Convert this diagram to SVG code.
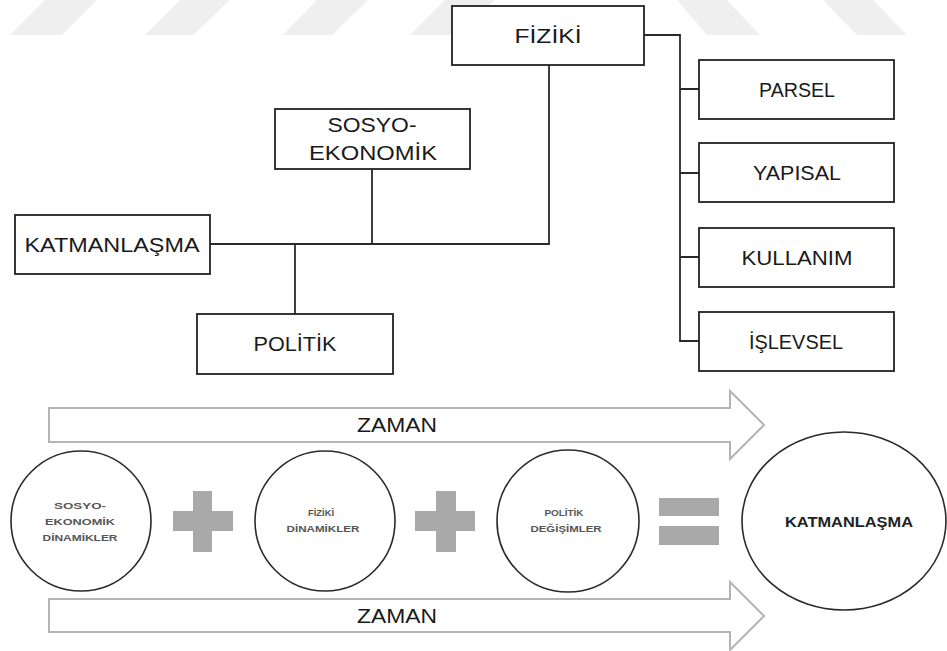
<svg xmlns="http://www.w3.org/2000/svg" width="947" height="651" viewBox="0 0 947 651">
<style>
.box{fill:#fff;stroke:#222;stroke-width:1.8}
.conn{fill:none;stroke:#2a2a2a;stroke-width:1.8}
.t{font-family:"Liberation Sans",Arial,sans-serif;font-size:20px;fill:#1a1a1a;text-anchor:middle}
.s{font-family:"Liberation Sans",Arial,sans-serif;font-size:9.5px;font-weight:bold;fill:#555;text-anchor:middle}
.wm{fill:#efefef}
.arrow{fill:#fff;stroke:#b4b4b4;stroke-width:2}
.circ{fill:#fff;stroke:#2a2a2a;stroke-width:1.6}
.op{fill:#a9a9a9}
</style>
<g id="watermark">
<polygon class="wm" points="10,35 62,35 97,0 45,0"/>
<polygon class="wm" points="145,35 193,35 230,0 180,0"/>
<polygon class="wm" points="283,35 332,35 368,0 317,0"/>
<polygon class="wm" points="410,35 460,35 495,0 445,0"/>
<polygon class="wm" points="677,0 727,0 760,35 707,35"/>
<polygon class="wm" points="823,0 873,0 907,35 857,35"/>
</g>
<g id="connectors">
<path class="conn" d="M644 35 H680 V341 H699"/>
<path class="conn" d="M680 89 H699 M680 173 H699 M680 257 H699"/>
<path class="conn" d="M549 65 V244 H210"/>
<path class="conn" d="M372 169 V244"/>
<path class="conn" d="M295 244 V314"/>
</g>
<g id="fiziki"><rect class="box" x="452" y="6" width="192" height="59"/><text class="t" x="548" y="43" textLength="67" lengthAdjust="spacingAndGlyphs">FİZİKİ</text></g>
<g id="sosyo-ekonomik"><rect class="box" x="275" y="109" width="195" height="60"/><text class="t" x="372" y="132" textLength="89" lengthAdjust="spacingAndGlyphs">SOSYO-</text><text class="t" x="373" y="160" textLength="128" lengthAdjust="spacingAndGlyphs">EKONOMİK</text></g>
<g id="katmanlasma"><rect class="box" x="15" y="215" width="195" height="59"/><text class="t" x="112" y="252" textLength="175" lengthAdjust="spacingAndGlyphs">KATMANLAŞMA</text></g>
<g id="politik"><rect class="box" x="197" y="314" width="196" height="60"/><text class="t" x="295" y="351" textLength="83" lengthAdjust="spacingAndGlyphs">POLİTİK</text></g>
<g id="parsel"><rect class="box" x="699" y="60" width="195" height="59"/><text class="t" x="797" y="97" textLength="76" lengthAdjust="spacingAndGlyphs">PARSEL</text></g>
<g id="yapisal"><rect class="box" x="699" y="143" width="195" height="59"/><text class="t" x="797" y="180" textLength="88" lengthAdjust="spacingAndGlyphs">YAPISAL</text></g>
<g id="kullanim"><rect class="box" x="699" y="228" width="195" height="59"/><text class="t" x="797" y="265" textLength="111" lengthAdjust="spacingAndGlyphs">KULLANIM</text></g>
<g id="islevsel"><rect class="box" x="699" y="312" width="195" height="59"/><text class="t" x="796" y="349" textLength="94" lengthAdjust="spacingAndGlyphs">İŞLEVSEL</text></g>
<g id="zaman-top"><polygon class="arrow" points="49,408 730,408 730,391 764,425 730,459 730,442 49,442"/><text class="t" x="397" y="432" textLength="80" lengthAdjust="spacingAndGlyphs">ZAMAN</text></g>
<g id="zaman-bottom"><polygon class="arrow" points="49,599 730,599 730,582 764,616 730,650 730,632 49,632"/><text class="t" x="397" y="623" textLength="80" lengthAdjust="spacingAndGlyphs">ZAMAN</text></g>
<g id="c-sosyo"><circle class="circ" cx="81" cy="521" r="70"/><text class="s" x="80" y="508.5" textLength="52" lengthAdjust="spacingAndGlyphs">SOSYO-</text><text class="s" x="80" y="524.5" textLength="70" lengthAdjust="spacingAndGlyphs">EKONOMİK</text><text class="s" x="80" y="540.5" textLength="75" lengthAdjust="spacingAndGlyphs">DİNAMİKLER</text></g>
<g id="plus1" class="op"><rect x="193" y="491" width="19" height="61"/><rect x="173" y="511" width="60" height="20"/></g>
<g id="c-fiziki"><circle class="circ" cx="325" cy="521" r="70"/><text class="s" x="321" y="515.5" textLength="26" lengthAdjust="spacingAndGlyphs">FİZİKİ</text><text class="s" x="323" y="531.5" textLength="73" lengthAdjust="spacingAndGlyphs">DİNAMİKLER</text></g>
<g id="plus2" class="op"><rect x="436" y="491" width="20" height="61"/><rect x="415" y="511" width="60" height="20"/></g>
<g id="c-politik"><circle class="circ" cx="568" cy="521" r="71"/><text class="s" x="564" y="515.5" textLength="39" lengthAdjust="spacingAndGlyphs">POLİTİK</text><text class="s" x="566" y="531.5" textLength="71" lengthAdjust="spacingAndGlyphs">DEĞİŞİMLER</text></g>
<g id="equals" class="op"><rect x="659" y="498" width="60" height="18"/><rect x="659" y="526" width="60" height="19"/></g>
<g id="e-katmanlasma"><ellipse class="circ" cx="844" cy="521" rx="102" ry="89"/><text class="s" x="849" y="527" style="font-size:14px;fill:#222" textLength="128" lengthAdjust="spacingAndGlyphs">KATMANLAŞMA</text></g>
</svg>
